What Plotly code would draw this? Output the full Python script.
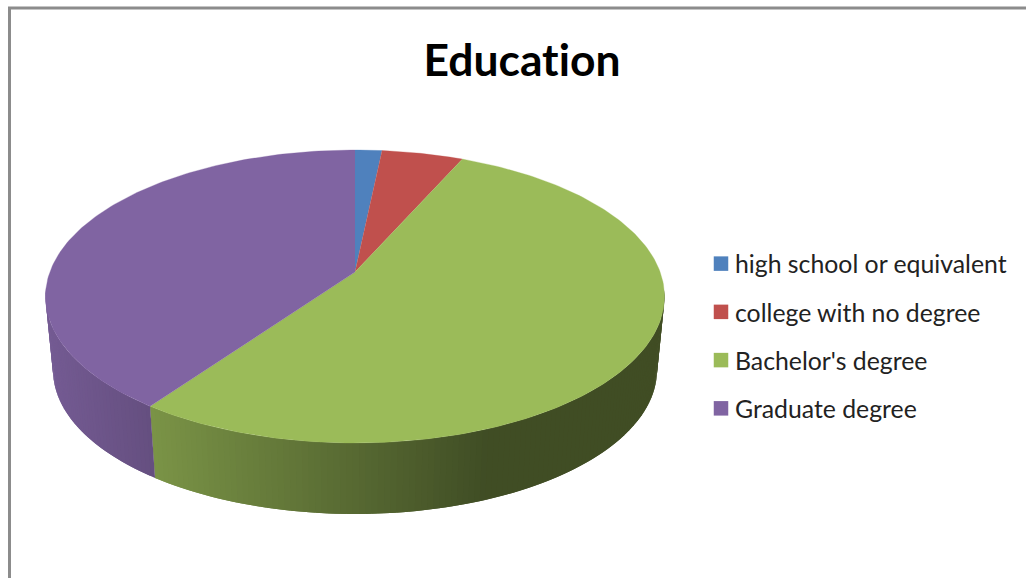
import numpy as np
import plotly.graph_objects as go

categories = ["high school or equivalent", "college with no degree", "Bachelor's degree", "Graduate degree"]
values = [1.65, 5.0, 53.2, 40.15]
colors = ["#4F81BD", "#C0504D", "#9BBB59", "#8064A2"]
title_text = "Education"

W, H = 1026, 578
CX, CY, RX, RY = 355.0, 296.5, 309.5, 146.5      # top face ellipse
BX, BY, BRX, BRY = 355.0, 370.0, 302.0, 144.0    # bottom rim ellipse
A = 0.167                                        # perspective shift of the pie centre


def project(phi):
    """Pie angle (clockwise from top) to unit ellipse coordinates, with perspective."""
    u, v = np.sin(phi), np.cos(phi)
    d = 1 + A * v
    return np.sqrt(1 - A * A) * u / d, (v + A) / d


def shade(hex_color, x):
    f = max(0.41, 0.79 - 0.00112 * (x - 150))
    r, g, b = (int(hex_color[i:i + 2], 16) for i in (1, 3, 5))
    return f"rgb({r * f:.0f},{g * f:.0f},{b * f:.0f})"


fractions = np.array(values) / sum(values)
edges = np.concatenate([[0], np.cumsum(fractions)]) * 2 * np.pi

fig = go.Figure()

# Side wall: strips coloured by horizontal position; each strip runs under the next one to hide seams
for i, color in enumerate(colors):
    n = max(2, int(np.degrees(edges[i + 1] - edges[i]) / 1.0) + 1)
    phis = np.linspace(edges[i], edges[i + 1], n)
    X, Y = project(phis)
    for j in range(n - 1):
        if Y[j] > 0.03 and Y[j + 1] > 0.03:
            continue
        k = min(j + 2, n - 1)
        xs = np.concatenate([CX + RX * X[j:k + 1], BX + BRX * X[j:k + 1][::-1]])
        ys = np.concatenate([CY - RY * Y[j:k + 1], BY - BRY * Y[j:k + 1][::-1]])
        c = shade(color, float(CX + RX * (X[j] + X[j + 1]) / 2))
        fig.add_trace(go.Scatter(x=xs, y=ys, mode="lines", fill="toself", fillcolor=c,
                                 line=dict(width=0), showlegend=False, hoverinfo="skip"))

# Top face wedges
for i, (name, color) in enumerate(zip(categories, colors)):
    n = max(2, int(np.degrees(edges[i + 1] - edges[i])) + 2)
    X, Y = project(np.linspace(edges[i], edges[i + 1], n))
    xs = np.concatenate([[CX], CX + RX * X])
    ys = np.concatenate([[CY - RY * A], CY - RY * Y])
    fig.add_trace(go.Scatter(x=xs, y=ys, mode="lines", fill="toself", fillcolor=color,
                             line=dict(color=color, width=0.3), showlegend=False,
                             name=name, text=f"{values[i]}%", hoverinfo="name+text"))

# Legend entries
for i, (name, color) in enumerate(zip(categories, colors)):
    fig.add_trace(go.Scatter(x=[None], y=[None], mode="markers", name=name, legendgroup=name,
                             marker=dict(symbol="square", size=14.5, color=color)))

fig.update_layout(
    width=W, height=H,
    margin=dict(l=0, r=0, t=0, b=0),
    paper_bgcolor="white", plot_bgcolor="white",
    title=dict(text=title_text, x=522 / W, xanchor="center", y=1 - 60 / H, yanchor="middle",
               font=dict(family="Lato", size=44.4, color="black", weight="bold")),
    xaxis=dict(range=[0, W], visible=False, fixedrange=True),
    yaxis=dict(range=[H, 0], visible=False, fixedrange=True),
    legend=dict(x=695 / W, xanchor="left", y=1 - 241 / H, yanchor="top",
                font=dict(family="Lato", size=24.8, color="#222222"),
                tracegroupgap=13, itemwidth=30, bgcolor="rgba(0,0,0,0)"),
    shapes=[dict(type="line", xref="x", yref="y", x0=9.5, x1=9.5, y0=8, y1=H, line=dict(color="#8c8c8c", width=3)),
            dict(type="line", xref="x", yref="y", x0=8, x1=W, y0=8, y1=8, line=dict(color="#8c8c8c", width=3))],
)

post = """
document.body.style.margin = '0';
var st = document.createElement('style');
st.textContent = 'text{font-variant-ligatures:none !important;}';
document.head.appendChild(st);
document.querySelectorAll('.legendsymbols').forEach(function (g) {
  g.setAttribute('transform', 'translate(6,0)');
});
"""
fig.write_html("out.html", post_script=post, config={"displayModeBar": False})
